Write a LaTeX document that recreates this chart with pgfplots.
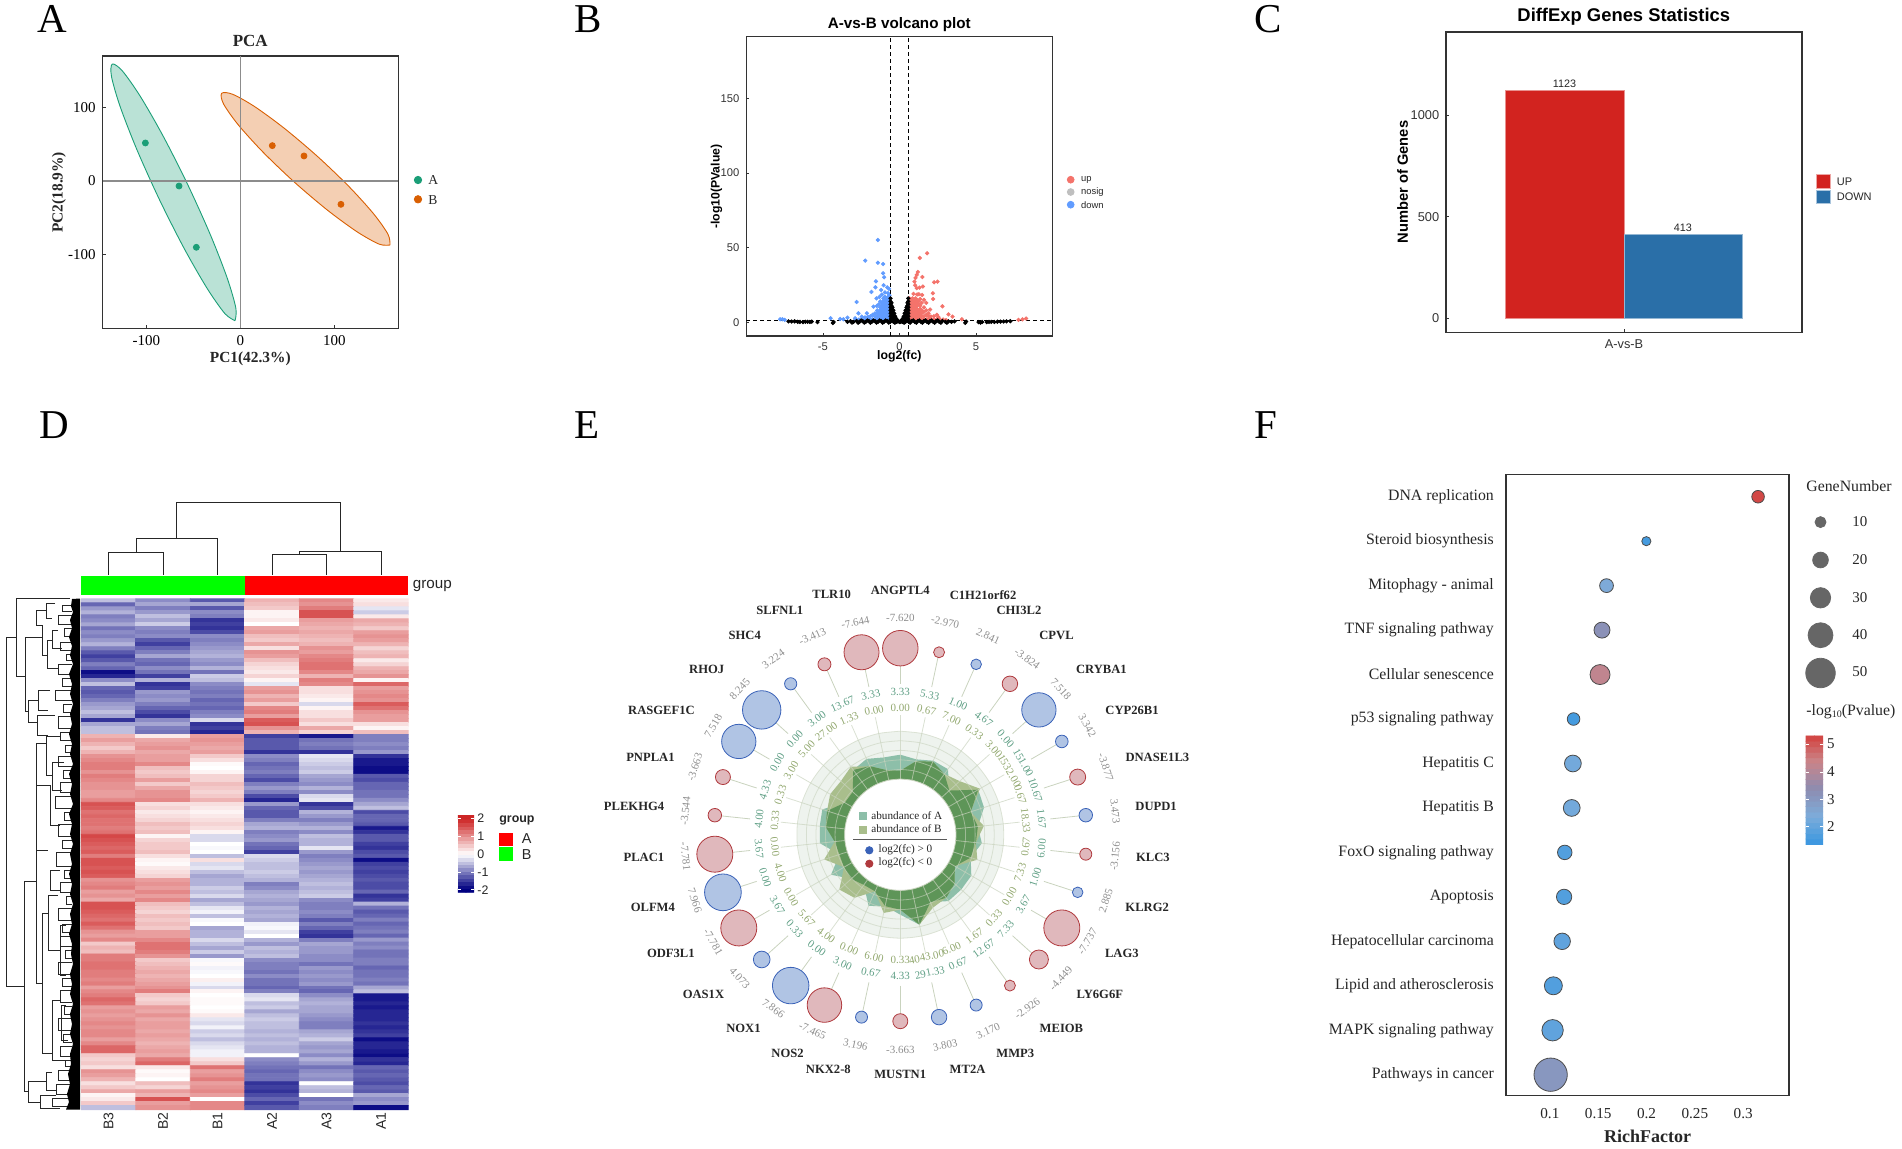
\documentclass[border=0pt]{standalone}
\usepackage{fontspec}
\setmainfont{Liberation Serif}
\setsansfont{Liberation Sans}
\usepackage{pgfplots}
\usepackage{pgfplotstable}
\pgfplotsset{compat=1.18}
% one image pixel = 0.5pt, page is 951pt x 574pt
\newcommand\fs[1]{\fontsize{#1}{#1}\selectfont}
\definecolor{pcaA}{HTML}{1B9E77}
\definecolor{pcaB}{HTML}{D95F02}
\definecolor{volUp}{HTML}{F4736B}
\definecolor{volDown}{HTML}{619CFF}
\definecolor{barUp}{HTML}{D2231F}
\definecolor{barDown}{HTML}{2A6FA8}
\definecolor{bubBlueL}{HTML}{3A62B8}
\definecolor{bubBlueF}{HTML}{B0C4E4}
\definecolor{bubRedL}{HTML}{B03A3E}
\definecolor{bubRedF}{HTML}{E0B8BC}
\definecolor{ringF}{HTML}{EEF3EE}
\definecolor{ringL}{HTML}{C9D3BE}
\definecolor{radA}{HTML}{8DBFA9}
\definecolor{radB}{HTML}{A9BE8C}
\definecolor{radM}{HTML}{5E9558}
\definecolor{txtA}{HTML}{5F9F85}
\definecolor{txtB}{HTML}{92A86F}
\definecolor{txtF}{HTML}{8E8E8E}
\pgfplotsset{
  colormap={heat}{rgb255=(0,0,128) rgb255=(255,255,255) rgb255=(205,38,38)},
  colormap={rich}{rgb255=(58,151,224) rgb255=(125,172,218) rgb255=(142,140,176) rgb255=(202,132,136) rgb255=(212,58,54)},
  panel/.style={scale only axis, axis line style={line width=.75pt,color=black!80},
    tick style={black!80,line width=.4pt}, major tick length=1.5pt,
    xtick pos=bottom, ytick pos=left,
    /pgf/number format/assume math mode=true, /pgf/number format/1000 sep={}},
  blank/.style={scale only axis, hide axis, clip=false},
  bub/.style 2 args={scatter, only marks, mark=*, point meta=\thisrow{d},
    visualization depends on={\thisrow{d}/4 \as \ps},
    scatter/use mapped color={draw=#1,fill=#2},
    scatter/@pre marker code/.append style={/tikz/mark size=\ps,/tikz/line width=.6pt}},
}
\pgfplotstableread{
a
0
12
24
36
48
60
72
84
96
108
120
132
144
156
168
180
192
204
216
228
240
252
264
276
288
300
312
324
336
348
360
}\ringtab
\pgfplotstableread{
a A B M
0 80 64 64
12 77 75 75
24 81 80 80
36 81 75 75
48 66 80 66
60 90 92 90
72 88 74 74
84 78 84 78
96 82 76 76
108 74 81 74
120 82 63 63
132 82 73 73
144 82 78 78
156 74 80 74
168 92 92 92
180 80 75 75
192 73 80 73
204 78 62 62
216 62 78 62
228 66 82 66
240 80 65 65
252 64 80 64
264 81 66 66
276 81 75 75
288 82 77 77
300 64 81 64
312 64 80 64
324 80 84 80
336 83 75 75
348 79 66 66
360 80 64 64
}\radar
\begin{document}
\begin{tikzpicture}
\path[use as bounding box] (0pt,0pt) rectangle (951pt,574pt);

% A: PCA
\begin{axis}[panel, at={(51.35pt,409.85pt)}, width=147.8pt, height=136.15pt,
  xmin=-146.4, xmax=168, ymin=-199.5, ymax=169.3,
  xtick={-100,0,100}, ytick={-100,0,100},
  tick label style={font=\fs{7.5}}]
\addplot[fill=pcaA, fill opacity=.3, draw=pcaA, line width=.45pt, smooth] coordinates {
 (-5.65,-189.15)(-4.73,-172.37)(-13.92,-131.64)(-31.73,-73.28)(-55.55,-6.0)(-81.71,59.86)
 (-106.18,114.16)(-125.31,148.83)(-136.15,158.45)(-137.07,141.67)(-127.88,100.94)(-110.07,42.58)
 (-86.25,-24.7)(-60.09,-90.56)(-35.62,-144.86)(-16.49,-179.53)(-5.65,-189.15)};
\addplot[fill=pcaB, fill opacity=.3, draw=pcaB, line width=.45pt, smooth] coordinates {
 (159.2,-86.7)(157.1,-72.23)(141.66,-44.3)(115.32,-7.25)(81.95,33.4)(46.72,71.41)
 (15.04,100.9)(-8.38,117.55)(-19.9,118.7)(-17.8,104.23)(-2.36,76.3)(23.98,39.25)
 (57.35,-1.4)(92.58,-39.41)(124.26,-68.9)(147.68,-85.55)(159.2,-86.7)};
\addplot[black!45, line width=.7pt] coordinates {(-146.4,0)(168,0)};
\addplot[black!45, line width=.7pt] coordinates {(0,-199.5)(0,169.3)};
\addplot[only marks, mark=*, mark size=1.5pt, pcaA] coordinates {(-101,51.5)(-65.2,-6.8)(-46.8,-89.8)};
\addplot[only marks, mark=*, mark size=1.5pt, pcaB] coordinates {(34,47.9)(67.7,33.9)(107,-31.6)};
\end{axis}

% B: volcano
\begin{axis}[panel, at={(373.2pt,406pt)}, width=153.05pt, height=149.65pt,
  xmin=-10, xmax=10, ymin=-9.2, ymax=191.3,
  xtick={-5,0,5}, ytick={0,50,100,150},
  tick label style={font=\sffamily\fs{5.6},text=black!80}]
\addplot[only marks, mark=*, mark size=.85pt, volDown] coordinates {
 (-1.41,55.1)(-2.24,41.3)(-1.41,39.9)(-1.07,39)(-1.07,32.8)(-1,30.1)(-1.54,27.4)(-1.57,23.4)
 (-1.04,24.8)(-.8,23.4)(-.68,22.4)(-1.83,20.3)(-1.2,21.6)(-1.5,16)(-2.8,13.6)(-1.15,18.5)(-1.48,10.9)
 (-1.7,10.5)(-2.13,6)(-2.68,6)(-1.3,17)(-.95,20)(-.75,19.5)
 (-7.8,2)(-7.65,2)(-7.5,1.6)(-4.5,2.7)(-3.88,2.2)(-3.66,2)(-3.4,3.1)(-2.9,2.7)(-2.46,3.8)
 (-.65,2)(-.65,4)(-.65,6)(-.65,8)(-.65,10)(-.65,12)(-.65,14)(-.65,16)(-.65,18)
 (-.75,3)(-.75,5)(-.75,7)(-.75,9)(-.75,11)(-.75,13)(-.75,15)(-.75,17)
 (-.85,2)(-.85,4)(-.85,6)(-.85,8)(-.85,10)(-.85,12)(-.85,14)(-.85,16)
 (-.95,3)(-.95,5)(-.95,7)(-.95,9)(-.95,11)(-.95,13)(-.95,15)(-.95,17)
 (-1.05,2)(-1.05,4)(-1.05,6)(-1.05,8)(-1.05,10)(-1.05,12)(-1.05,14)(-1.05,16)
 (-1.15,3)(-1.15,5)(-1.15,7)(-1.15,9)(-1.15,11)(-1.15,13)
 (-1.25,2)(-1.25,4)(-1.25,6)(-1.25,8)(-1.25,10)(-1.25,14)
 (-1.35,3)(-1.35,5)(-1.35,7)(-1.35,12)
 (-1.45,2)(-1.45,4)(-1.45,6)(-1.45,8)
 (-1.6,2)(-1.6,4)(-1.6,6)(-1.75,2)(-1.75,5)(-1.9,2)(-1.9,4)(-2.05,2)(-2.05,3.6)(-2.25,2)(-2.25,3.2)
 (-2.45,2)(-2.65,1.8)(-2.85,1.8)};
\addplot[only marks, mark=*, mark size=.85pt, volUp] coordinates {
 (1.81,46.2)(1.33,43.1)(1.2,33.7)(1.13,31.7)(1.05,29.7)(1.5,30.3)(.98,27.2)(1.03,24.8)(1.13,22.8)
 (1.31,23.2)(1.53,23.9)(2.27,26.8)(2.49,27.2)(2.18,19.4)(2.2,15.6)(.92,19)(1.27,18.8)(1.48,18.3)
 (2.81,10.7)(3.2,5.3)(3.47,3.8)(4.08,2)(7.78,1.6)(8.04,2)(8.28,2.5)(1.15,18.6)(1.35,15.6)(1.6,15)
 (2.55,3.4)(2.45,5)(2,8.5)(1.75,13)
 (.65,2)(.65,4)(.65,6)(.65,8)(.65,10)(.65,12)(.65,14)(.65,16)
 (.75,3)(.75,5)(.75,7)(.75,9)(.75,11)(.75,13)(.75,15)
 (.85,2)(.85,4)(.85,6)(.85,8)(.85,10)(.85,12)(.85,14)(.85,16)
 (.95,3)(.95,5)(.95,7)(.95,9)(.95,11)(.95,13)(.95,15)
 (1.05,2)(1.05,4)(1.05,6)(1.05,8)(1.05,10)(1.05,12)(1.05,14)(1.05,16)
 (1.15,3)(1.15,5)(1.15,7)(1.15,9)(1.15,11)(1.15,13)(1.15,15)
 (1.25,2)(1.25,4)(1.25,6)(1.25,8)(1.25,12)(1.25,14)
 (1.35,3)(1.35,5)(1.35,7)(1.35,9)(1.35,11)
 (1.45,2)(1.45,4)(1.45,6)(1.45,8)(1.45,13)
 (1.6,2)(1.6,4)(1.6,7)(1.6,10)(1.75,2)(1.75,5)(1.75,8)(1.9,2)(1.9,4)(1.9,6)
 (2.05,2)(2.05,3.8)(2.25,2)(2.25,4)(2.45,2)(2.65,1.8)(2.85,1.8)(3.05,1.5)};
\addplot[only marks, mark=*, mark size=.85pt, black] coordinates {
 (-.58,16)(-.58,14)(-.58,12)(-.58,10)(-.58,8)(-.58,6)(-.58,4)(-.58,2)
 (-.52,13)(-.52,11)(-.52,9)(-.52,7)(-.52,5)(-.52,3)(-.46,10)(-.46,8)(-.46,6)(-.46,4)(-.46,2)
 (-.4,8)(-.4,6)(-.4,4)(-.4,2)(-.34,6)(-.34,4)(-.34,2)(-.28,4)(-.28,2)(-.28,.5)(-.22,2.5)(-.22,1)
 (-.16,1.5)(-.16,.5)(-.1,.8)(0,.2)(.05,.2)(.1,.8)(.16,1.5)(.16,.5)(.22,2.5)(.22,1)
 (.28,4)(.28,2)(.28,.5)(.34,6)(.34,4)(.34,2)(.4,8)(.4,6)(.4,4)(.4,2)
 (.46,10)(.46,8)(.46,6)(.46,4)(.46,2)(.52,13)(.52,11)(.52,9)(.52,7)(.52,5)(.52,3)
 (.58,16)(.58,14)(.58,12)(.58,10)(.58,8)(.58,6)(.58,4)(.58,2)
 (-3.4,.3)(-3.2,.8)(-3,.3)(-2.8,.8)(-2.6,.3)(-2.4,.8)(-2.2,.3)(-2,.8)(-1.8,.3)(-1.6,.8)(-1.4,.3)
 (-1.2,.8)(-1,.3)(-.8,.8)(-.6,.3)(-.4,.3)(-.2,.3)(.2,.3)(.4,.3)(.6,.3)(.8,.8)(1,.3)(1.2,.8)(1.4,.3)
 (1.6,.8)(1.8,.3)(2,.8)(2.2,.3)(2.4,.8)(2.6,.3)(2.8,.8)(3,.3)(3.2,.6)(3.4,.3)(3.6,.6)
 (-3.1,-.3)(-2.7,-.3)(-2.3,-.3)(-1.9,-.3)(-1.5,-.3)(-1.1,-.3)(-.7,-.3)(-.3,-.3)(.3,-.3)(.7,-.3)(1.1,-.3)(1.5,-.3)(1.9,-.3)(2.3,-.3)(2.7,-.3)(3.1,-.3)
 (-2.5,1.2)(-2.1,1.2)(-1.7,1.2)(-1.3,1.2)(-.9,1.2)(-.5,1.2)(.5,1.2)(.9,1.2)(1.3,1.2)(1.7,1.2)(2.1,1.2)(2.5,1.2)
 (-7.25,.6)(-7.05,.5)(-6.85,.6)(-6.65,.3)(-6.5,.2)(-6.3,.1)(-6.15,.3)(-6,.3)(-5.85,.2)(-5.73,.4)(-5.36,.1)(-4.35,-.5)(-4.3,.2)
 (4.36,.5)(4.3,-.4)(5.17,.1)(5.3,-.2)(5.4,.2)(5.7,.1)(5.85,.3)(6,.3)(6.2,.2)(6.4,.4)(6.6,.4)(6.8,.5)(7,.6)(7.24,.7)};
\addplot[black, line width=.65pt, dash pattern=on 2pt off 1.5pt] coordinates {(-10,1.3)(10,1.3)};
\addplot[black, line width=.65pt, dash pattern=on 2pt off 1.5pt] coordinates {(-.585,-9.2)(-.585,191.3)};
\addplot[black, line width=.65pt, dash pattern=on 2pt off 1.5pt] coordinates {(.585,-9.2)(.585,191.3)};
\end{axis}

% C: bars
\begin{axis}[panel, at={(723.1pt,407.85pt)}, width=177.85pt, height=150.15pt,
  xmin=-.6, xmax=.6, ymin=-69, ymax=1410,
  xtick={0}, xticklabels={A-vs-B}, ytick={0,500,1000},
  tick label style={font=\sffamily\fs{6.4},text=black!80}]
\addplot[ybar, bar width=.4, bar shift=-.2, fill=barUp, draw=barUp!50!white, line width=.4pt] coordinates {(0,1123)};
\addplot[ybar, bar width=.4, bar shift=.2, fill=barDown, draw=barDown!50!white, line width=.4pt] coordinates {(0,413)};
\end{axis}

% D: heat map, columns B3 B2 B1 A2 A3 A1, top row first
\begin{axis}[blank, at={(40.7pt,19.2pt)}, width=163.4pt, height=255.4pt,
  xmin=-.5, xmax=5.5, ymin=-.5, ymax=127.5, y dir=reverse,
  colormap name=heat, point meta min=-2, point meta max=2]
\addplot[matrix plot*, mesh/cols=6, point meta=\thisrow{z}] table[row sep=\\, y index=0, x expr={\coordindex-6*floor((\coordindex+.5)/6)}, y expr={floor((\coordindex+.5)/6)}] {
z\\
-.5\\-.9\\-1.3\\.7\\1.1\\.2\\
-1.2\\-.7\\-.7\\.6\\1.0\\.3\\
-.8\\-1.0\\-1.3\\.5\\1.2\\-.2\\
-.6\\-.8\\-.9\\.1\\1.6\\-.4\\
-1.0\\-.5\\-1.0\\.1\\1.6\\.2\\
-.9\\-.7\\-1.6\\.2\\.9\\.8\\
-.7\\-.4\\-1.5\\.0\\.8\\.7\\
-1.1\\-.9\\-1.6\\.8\\.7\\.5\\
-.9\\-1.0\\-1.4\\.9\\.8\\.9\\
-1.0\\-.9\\-.9\\.6\\.7\\1.0\\
-.8\\-1.3\\-1.0\\.5\\.6\\.9\\
-.6\\-1.5\\-.9\\.8\\.7\\.7\\
-1.0\\-1.2\\-.8\\.3\\1.0\\.4\\
-1.3\\-1.0\\-.7\\1.0\\.9\\.6\\
-1.5\\-.7\\-.6\\.9\\1.1\\.7\\
-1.3\\-1.1\\-.8\\.6\\1.2\\.2\\
-1.0\\-1.2\\-.9\\.4\\1.3\\.4\\
-1.2\\-.9\\-.6\\.3\\1.3\\.7\\
-1.9\\-1.1\\-1.1\\.2\\1.1\\.8\\
-1.7\\-1.5\\-.4\\.4\\.7\\1.0\\
-.9\\-.6\\-.5\\.1\\1.2\\.1\\
-.5\\-1.6\\-.9\\-.2\\1.1\\1.4\\
-1.2\\-1.5\\-1.0\\.9\\.3\\.9\\
-1.3\\-.8\\-1.1\\1.0\\.3\\1.0\\
-1.2\\-.9\\-1.0\\.7\\.2\\1.1\\
-1.0\\-.8\\-1.2\\.9\\.1\\1.0\\
-.8\\-1.0\\-1.1\\.5\\-.3\\1.5\\
-.7\\-1.2\\-1.2\\1.1\\.1\\1.3\\
-.5\\-1.4\\-1.0\\1.2\\.3\\1.0\\
-.7\\-1.6\\-.9\\.9\\.3\\.9\\
-1.6\\-.9\\-.3\\1.5\\.5\\.9\\
-.7\\-.7\\-1.6\\1.6\\.3\\.3\\
-.5\\-1.0\\-1.5\\1.0\\.8\\.1\\
-.5\\-1.1\\-1.7\\.7\\.4\\.6\\
.7\\.2\\.9\\-1.5\\-1.8\\-1.0\\
.9\\.8\\1.0\\-1.3\\-1.1\\-1.0\\
.7\\.9\\.9\\-1.3\\-1.0\\-.9\\
.5\\1.0\\.8\\-1.3\\-1.1\\-1.0\\
.7\\.8\\.9\\-1.6\\-1.6\\-.8\\
1.0\\.9\\.5\\-.9\\-.2\\-1.6\\
1.1\\.9\\.3\\-1.0\\-.3\\-1.8\\
1.2\\1.1\\.05\\-1.2\\-.4\\-1.8\\
1.2\\.6\\.0\\-1.1\\-.5\\-1.9\\
1.0\\.5\\.1\\-1.0\\-.4\\-1.9\\
1.2\\.6\\.4\\-1.2\\-.7\\-1.3\\
1.1\\.9\\.4\\-1.4\\-.8\\-1.4\\
1.0\\.5\\.6\\-1.0\\-.9\\-1.2\\
1.0\\.8\\.5\\-.8\\-.6\\-1.2\\
.9\\1.0\\.4\\-1.0\\-.9\\-1.1\\
.9\\1.0\\.5\\-1.4\\-.3\\-1.1\\
1.1\\1.1\\.7\\-1.7\\-.2\\-.9\\
1.6\\.3\\.3\\-.8\\-1.6\\-.7\\
1.5\\.4\\.2\\-1.2\\-1.4\\-.5\\
1.3\\.2\\.1\\-1.3\\-.6\\-1.4\\
1.4\\.3\\.2\\-1.3\\-.8\\-1.2\\
1.3\\.4\\.3\\-1.0\\-1.0\\-1.2\\
1.3\\.6\\.4\\-.7\\-.8\\-1.3\\
1.2\\.5\\.3\\-.6\\-.6\\-1.8\\
1.3\\.6\\.1\\-1.0\\-.9\\-1.6\\
1.7\\.1\\-.3\\-.9\\-.5\\-1.3\\
1.6\\.4\\-.3\\-.8\\-.6\\-1.3\\
1.5\\.5\\.0\\-1.1\\-.6\\-1.5\\
1.4\\.5\\-.05\\-1.2\\-.2\\-1.6\\
1.5\\.6\\.0\\-1.5\\-.8\\-1.4\\
1.2\\.3\\-.5\\-.3\\-1.0\\-1.3\\
1.6\\.1\\.3\\-.4\\-.9\\-1.9\\
1.6\\.05\\-.3\\-.5\\-.8\\-1.5\\
1.5\\.2\\-.2\\-.5\\-.7\\-1.4\\
1.6\\.3\\-.5\\-.4\\-.8\\-1.5\\
1.5\\.4\\-.7\\-.5\\-.7\\-1.4\\
1.0\\.9\\-.6\\-.6\\-.6\\-1.3\\
1.1\\1.0\\-.6\\-1.0\\-.5\\-1.4\\
1.2\\.9\\-.4\\-.9\\-.6\\-1.4\\
.9\\1.1\\-.5\\-.7\\-.5\\-1.2\\
1.0\\.9\\-.3\\-.6\\-.4\\-1.6\\
.8\\1.1\\-.7\\-.7\\-.9\\-1.5\\
1.6\\.6\\-.5\\-.8\\-1.0\\-.6\\
1.6\\.5\\-.2\\-.6\\-1.0\\-1.1\\
1.5\\.4\\-.1\\-.7\\-.9\\-1.3\\
1.4\\.6\\-.5\\-.6\\-1.0\\-1.2\\
1.3\\.5\\-.05\\-.7\\-1.3\\-1.0\\
1.5\\.6\\.0\\-.1\\-1.0\\-1.2\\
1.3\\.5\\-.7\\-.05\\-1.2\\-1.1\\
1.0\\.9\\-.6\\-.2\\-1.5\\-1.0\\
.9\\.9\\-.6\\.0\\-1.6\\-1.2\\
1.1\\1.1\\-.3\\-.6\\-1.0\\-.8\\
.5\\1.3\\-.5\\-.8\\-.7\\-1.0\\
.7\\1.3\\-.7\\-.5\\-.8\\-.9\\
.6\\1.2\\-.4\\-.6\\-.8\\-1.1\\
1.2\\1.0\\-.8\\-.5\\-.9\\-1.1\\
1.2\\.5\\-.05\\-.9\\-.9\\-1.0\\
1.3\\.6\\.05\\-1.0\\-1.1\\-1.0\\
1.3\\.7\\-.1\\-1.0\\-.8\\-1.2\\
1.2\\.8\\-.05\\-1.1\\-.9\\-1.1\\
1.2\\.7\\.0\\-.9\\-.8\\-1.1\\
1.1\\.8\\.15\\-1.1\\-.9\\-1.0\\
1.2\\.9\\-.1\\-1.1\\-.8\\-1.1\\
.9\\1.0\\-.3\\-1.2\\-1.1\\-.7\\
1.1\\1.2\\.1\\-1.0\\-1.2\\-.5\\
1.2\\.5\\.0\\-.3\\-.9\\-1.8\\
1.4\\.4\\.05\\-.2\\-.7\\-1.8\\
1.3\\.5\\.05\\-.5\\-.6\\-1.7\\
.9\\.9\\.0\\-.4\\-.7\\-1.8\\
1.0\\.8\\.05\\-.7\\-.7\\-1.7\\
.9\\1.0\\.2\\-.5\\-.8\\-1.7\\
1.0\\.8\\-.2\\-.4\\-.9\\-1.7\\
1.1\\.9\\-.3\\-.5\\-1.0\\-1.6\\
1.0\\.9\\-.1\\-.5\\-1.0\\-1.7\\
1.1\\.8\\-.4\\-.6\\-.7\\-1.6\\
1.1\\.9\\-.3\\-.5\\-.6\\-1.5\\
.9\\.8\\-.5\\-.6\\-.4\\-1.9\\
1.1\\.7\\-.3\\-.5\\-.7\\-1.7\\
1.4\\.8\\-.2\\-.6\\-.8\\-1.7\\
1.4\\.9\\-.1\\-.6\\-.7\\-1.8\\
.5\\.8\\-.1\\.0\\-.9\\-1.9\\
.4\\1.2\\.3\\-.9\\-.6\\-1.6\\
.5\\1.4\\.5\\-1.0\\-.8\\-1.7\\
.3\\.2\\1.3\\-1.1\\-1.1\\-1.2\\
1.0\\.05\\.9\\-1.2\\-.9\\-1.3\\
.9\\.1\\1.0\\-1.1\\-.8\\-1.2\\
.7\\.0\\1.2\\-1.1\\-.9\\-1.3\\
.3\\.6\\.9\\-1.6\\.0\\-1.4\\
.5\\.4\\1.0\\-1.5\\-.5\\-1.2\\
.8\\.9\\1.1\\-1.6\\-.6\\-1.3\\
.1\\.7\\.9\\-1.4\\.0\\-.7\\
.2\\1.6\\.0\\-1.2\\-1.1\\-.9\\
.5\\.9\\1.1\\-1.5\\-.9\\-.8\\
-.5\\1.0\\1.1\\-1.3\\-1.0\\-1.9\\
};
\end{axis}

% D: colour key
\begin{axis}[blank, at={(229.1pt,127.85pt)}, width=7.7pt, height=38.35pt,
  xmin=-.5, xmax=1.5, ymin=-2.2, ymax=2.2,
  colormap name=heat, point meta min=-2, point meta max=2]
\addplot[matrix plot*, mesh/cols=2, point meta=y] coordinates {
 (0,-2.1)(1,-2.1)(0,-1.9)(1,-1.9)(0,-1.7)(1,-1.7)(0,-1.5)(1,-1.5)(0,-1.3)(1,-1.3)(0,-1.1)(1,-1.1)
 (0,-.9)(1,-.9)(0,-.7)(1,-.7)(0,-.5)(1,-.5)(0,-.3)(1,-.3)(0,-.1)(1,-.1)(0,.1)(1,.1)(0,.3)(1,.3)
 (0,.5)(1,.5)(0,.7)(1,.7)(0,.9)(1,.9)(0,1.1)(1,1.1)(0,1.3)(1,1.3)(0,1.5)(1,1.5)(0,1.7)(1,1.7)
 (0,1.9)(1,1.9)(0,2.1)(1,2.1)};
\end{axis}

% E: radial panel, x and y are image pixels from the centre
\begin{axis}[blank, at={(330.15pt,36.65pt)}, width=240pt, height=240pt,
  xmin=-240, xmax=240, ymin=-240, ymax=240]
\addplot[fill=ringF, draw=none, smooth] table[y index=0, x expr=103.5*sin(\thisrow{a}), y expr=103.5*cos(\thisrow{a})] {\ringtab};
\addplot[fill=radA, draw=none] table[x expr=\thisrow{A}*sin(\thisrow{a}), y expr=\thisrow{A}*cos(\thisrow{a})] {\radar};
\addplot[fill=radB, draw=none] table[x expr=\thisrow{B}*sin(\thisrow{a}), y expr=\thisrow{B}*cos(\thisrow{a})] {\radar};
\addplot[fill=radM, draw=none] table[x expr=\thisrow{M}*sin(\thisrow{a}), y expr=\thisrow{M}*cos(\thisrow{a})] {\radar};
\pgfplotsinvokeforeach{65.3,74.9,84.4,94,103.5}{
  \addplot[ringL, draw opacity=.6, line width=.4pt, smooth] table[y index=0, x expr=#1*sin(\thisrow{a}), y expr=#1*cos(\thisrow{a})] {\ringtab};
}
\pgfplotsinvokeforeach{0,12,...,348}{
  \addplot[ringL, draw opacity=.7, line width=.4pt] table[row sep=\\, y index=0, x expr=\thisrow{r}*sin(#1), y expr=\thisrow{r}*cos(#1)] {r\\ 56\\ 120\\};
  \addplot[ringL, line width=.4pt] table[row sep=\\, y index=0, x expr=\thisrow{r}*sin(#1), y expr=\thisrow{r}*cos(#1)] {r\\ 151\\ 186\\};
}
\addplot[fill=white, draw=ringL, line width=.4pt, smooth] table[y index=0, x expr=55.7*sin(\thisrow{a}), y expr=55.7*cos(\thisrow{a})] {\ringtab};
\addplot[bub={bubBlueL}{bubBlueF}] table[x expr=186.5*sin(\thisrow{a}), y expr=186.5*cos(\thisrow{a})] {
a d
24 10.6
48 34.3
60 12.6
84 13.5
108 10.6
156 12
168 15.5
192 12
216 36.5
228 16.7
252 36.7
300 34.3
312 38.4
324 12.2
};
\addplot[bub={bubRedL}{bubRedF}] table[x expr=186.5*sin(\thisrow{a}), y expr=186.5*cos(\thisrow{a})] {
a d
0 35.5
12 11
36 15.5
72 16
96 12
120 36
132 19
144 11
180 15
204 34.5
240 36
264 36
276 13.5
288 15
336 13
348 35
};
\end{axis}

% F: enrichment dots
\begin{axis}[panel, at={(752.95pt,26.2pt)}, width=141.6pt, height=310.55pt,
  xmin=.0545, xmax=.3475, ymin=.53, ymax=14.5,
  xtick={.1,.15,.2,.25,.3}, xticklabels={0.1,0.15,0.2,0.25,0.3},
  ytick={1,...,14},
  yticklabels={Pathways in cancer,MAPK signaling pathway,Lipid and atherosclerosis,Hepatocellular carcinoma,Apoptosis,FoxO signaling pathway,Hepatitis B,Hepatitis C,p53 signaling pathway,Cellular senescence,TNF signaling pathway,Mitophagy - animal,Steroid biosynthesis,DNA replication},
  major tick length=0pt, clip=false,
  xticklabel style={font=\fs{7.6},text=black!85,yshift=-3pt},
  yticklabel style={font=\fs{7.9},text=black!85,xshift=-2.5pt},
  colormap name=rich, point meta min=1.33, point meta max=5.39]
\addplot[scatter, only marks, mark=*, point meta=\thisrow{c},
  visualization depends on={\thisrow{d}/4 \as \ps},
  scatter/use mapped color={draw=black!70,fill=mapped color},
  scatter/@pre marker code/.append style={/tikz/mark size=\ps,/tikz/line width=.4pt}] table {
x y c d
.3154 14 5.2 12.6
.1998 13 1.5 9.2
.1586 12 2.4 13.8
.1539 11 3.2 16
.1519 10 4.2 20
.1245 9 1.5 12.6
.1238 8 2.2 16.8
.1226 7 2.2 16.8
.1154 6 1.7 14.5
.1147 5 1.7 15.3
.1127 4 1.9 16.5
.1036 3 1.7 18
.1028 2 1.9 21.4
.1008 1 3.0 33.3
};
\end{axis}

% F: colour key
\begin{axis}[blank, at={(903pt,151.75pt)}, width=8.4pt, height=55.65pt,
  xmin=-.5, xmax=1.5, ymin=1.3, ymax=5.4,
  colormap name=rich, point meta min=1.33, point meta max=5.39]
\addplot[matrix plot*, mesh/cols=2, point meta=y] coordinates {
 (0,1.4)(1,1.4)(0,1.6)(1,1.6)(0,1.8)(1,1.8)(0,2)(1,2)(0,2.2)(1,2.2)(0,2.4)(1,2.4)(0,2.6)(1,2.6)
 (0,2.8)(1,2.8)(0,3)(1,3)(0,3.2)(1,3.2)(0,3.4)(1,3.4)(0,3.6)(1,3.6)(0,3.8)(1,3.8)(0,4)(1,4)
 (0,4.2)(1,4.2)(0,4.4)(1,4.4)(0,4.6)(1,4.6)(0,4.8)(1,4.8)(0,5)(1,5)(0,5.2)(1,5.2)};
\end{axis}

% whole page in image pixels: legends, dendrograms, group strip
\begin{axis}[blank, at={(0pt,0pt)}, width=951pt, height=574pt,
  xmin=0, xmax=1902, ymin=0, ymax=1148, y dir=reverse, unbounded coords=jump]
% legends of A and B
\addplot[only marks, mark=*, mark size=1.85pt, pcaA] coordinates {(418,180)};
\addplot[only marks, mark=*, mark size=1.85pt, pcaB] coordinates {(418,199.3)};
\addplot[only marks, mark=*, mark size=1.7pt, volUp] coordinates {(1070.7,179.7)};
\addplot[only marks, mark=*, mark size=1.7pt, black!25] coordinates {(1070.7,192)};
\addplot[only marks, mark=*, mark size=1.7pt, volDown] coordinates {(1070.7,204.7)};
% legend of C
\addplot[fill=barUp, draw=barUp!40!white, line width=.3pt] coordinates {(1816.6,174.3)(1830.5,174.3)(1830.5,188.3)(1816.6,188.3)} --cycle;
\addplot[fill=barDown, draw=barDown!40!white, line width=.3pt] coordinates {(1816.6,190)(1830.5,190)(1830.5,203.3)(1816.6,203.3)} --cycle;
% group strip of D
\addplot[fill=green, draw=none] coordinates {(81.4,576.2)(245,576.2)(245,594.9)(81.4,594.9)} --cycle;
\addplot[fill=red, draw=none] coordinates {(245,576.2)(408.2,576.2)(408.2,594.9)(245,594.9)} --cycle;
\addplot[fill=red, draw=none] coordinates {(499,832.5)(512.9,832.5)(512.9,846)(499,846)} --cycle;
\addplot[fill=green, draw=none] coordinates {(499,847.2)(512.9,847.2)(512.9,860.7)(499,860.7)} --cycle;
% ticks on the colour keys
\addplot[white, line width=.3pt] coordinates {
 (458.2,818.6)(461,818.6)(nan,nan)(470.8,818.6)(473.6,818.6)(nan,nan)
 (458.2,836.4)(461,836.4)(nan,nan)(470.8,836.4)(473.6,836.4)(nan,nan)
 (458.2,872)(461,872)(nan,nan)(470.8,872)(473.6,872)(nan,nan)
 (458.2,889.7)(461,889.7)(nan,nan)(470.8,889.7)(473.6,889.7)(nan,nan)
 (1806,743.9)(1809,743.9)(nan,nan)(1819.8,743.9)(1822.8,743.9)(nan,nan)
 (1806,771.9)(1809,771.9)(nan,nan)(1819.8,771.9)(1822.8,771.9)(nan,nan)
 (1806,799.5)(1809,799.5)(nan,nan)(1819.8,799.5)(1822.8,799.5)(nan,nan)
 (1806,826.2)(1809,826.2)(nan,nan)(1819.8,826.2)(1822.8,826.2)};
% top dendrogram
\addplot[black!85, line width=.45pt] coordinates {
 (136,552)(136,538)(217.9,538)(217.9,575)(nan,nan)
 (176.8,538)(176.8,502)(340.4,502)(340.4,551.5)(nan,nan)
 (108.6,575)(108.6,552)(163.2,552)(163.2,575)(nan,nan)
 (299.3,554.5)(299.3,551.5)(381.4,551.5)(381.4,575)(nan,nan)
 (272.1,575)(272.1,554.5)(326.8,554.5)(326.8,575)};
% left dendrogram, large branches
\addplot[black!85, line width=.45pt] coordinates {
 (16.3,637.7)(6.7,637.7)(6.7,986.7)(24,986.7)(nan,nan)
 (70,598.3)(16.3,598.3)(16.3,676)(25.3,676)(nan,nan)
 (42,637.7)(25.3,637.7)(25.3,711.7)(28.3,711.7)(nan,nan)
 (55,603)(46,603)(46,618)(52,618)(nan,nan)
 (46,610)(36.7,610)(36.7,625)(42,625)(42,655)(47,655)(nan,nan)
 (52,640)(47,640)(47,668)(58,668)(nan,nan)
 (58,630)(52,630)(52,648)(62,648)(nan,nan)
 (38,700)(28.3,700)(28.3,722)(37,722)(nan,nan)
 (50,690)(38,690)(38,710)(48,710)(nan,nan)
 (55,715)(37,715)(37,735)(48,735)(nan,nan)
 (36,881.7)(24,881.7)(24,1091.7)(28.3,1091.7)(nan,nan)
 (46,1081)(28.3,1081)(28.3,1102)(40,1102)(nan,nan)
 (52,1072)(46,1072)(46,1090)(56,1090)(nan,nan)
 (56,1095)(40,1095)(40,1108)(60,1108)(nan,nan)
 (46.7,743)(36,743)(36,983)(42.7,983)(nan,nan)
 (60,736)(46.7,736)(46.7,775)(52,775)(nan,nan)
 (64,762)(52,762)(52,790)(62,790)(nan,nan)
 (50,785)(36.5,785)(36.5,850)(48,850)(nan,nan)
 (60,825)(50,825)(50,785)(nan,nan)
 (48,913)(42.7,913)(42.7,1053)(52,1053)(nan,nan)
 (58,895)(48,895)(48,950)(60,950)(nan,nan)
 (66,925)(60,925)(60,975)(66,975)(nan,nan)
 (61,1000)(52,1000)(52,1060)(68,1060)(nan,nan)
 (66,1005)(61,1005)(61,1040)(68,1040)(nan,nan)
 (60,870)(50,870)(50,890)(60,890)};
% left dendrogram, small branches
\addplot[black!85, line width=.4pt] coordinates {
 (72,605)(62,605)(62,611)(72,611)(nan,nan)(72,615)(58,615)(58,624)(72,624)(nan,nan)
 (72,628)(64,628)(64,636)(72,636)(nan,nan)(72,642)(60,642)(60,650)(72,650)(nan,nan)
 (72,654)(66,654)(66,660)(72,660)(nan,nan)(72,664)(58,664)(58,674)(72,674)(nan,nan)
 (72,678)(62,678)(62,686)(72,686)(nan,nan)(72,690)(55,690)(55,700)(72,700)(nan,nan)
 (72,704)(63,704)(63,712)(72,712)(nan,nan)(72,716)(58,716)(58,728)(72,728)(nan,nan)
 (72,732)(60,732)(60,740)(72,740)(nan,nan)(72,745)(65,745)(65,752)(72,752)(nan,nan)
 (72,756)(58,756)(58,766)(72,766)(nan,nan)(72,770)(63,770)(63,778)(72,778)(nan,nan)
 (72,782)(60,782)(60,792)(72,792)(nan,nan)(72,796)(55,796)(55,808)(72,808)(nan,nan)
 (72,812)(64,812)(64,820)(72,820)(nan,nan)(72,824)(58,824)(58,836)(72,836)(nan,nan)
 (72,840)(62,840)(62,848)(72,848)(nan,nan)(72,852)(56,852)(56,866)(72,866)(nan,nan)
 (72,870)(64,870)(64,878)(72,878)(nan,nan)(72,882)(60,882)(60,892)(72,892)(nan,nan)
 (72,896)(66,896)(66,904)(72,904)(nan,nan)(72,908)(58,908)(58,920)(72,920)(nan,nan)
 (72,924)(62,924)(62,932)(72,932)(nan,nan)(72,936)(60,936)(60,946)(72,946)(nan,nan)
 (72,950)(65,950)(65,958)(72,958)(nan,nan)(72,962)(58,962)(58,974)(72,974)(nan,nan)
 (72,978)(62,978)(62,986)(72,986)(nan,nan)(72,990)(60,990)(60,1002)(72,1002)(nan,nan)
 (72,1006)(64,1006)(64,1014)(72,1014)(nan,nan)(72,1018)(58,1018)(58,1030)(72,1030)(nan,nan)
 (72,1034)(63,1034)(63,1042)(72,1042)(nan,nan)(72,1046)(60,1046)(60,1056)(72,1056)(nan,nan)
 (72,1060)(65,1060)(65,1066)(72,1066)(nan,nan)(72,1070)(58,1070)(58,1080)(72,1080)(nan,nan)
 (72,1084)(56,1084)(56,1094)(72,1094)(nan,nan)(72,1098)(52,1098)(52,1106)(72,1106)};
% leaves of the left dendrogram merge into a solid band
\addplot[fill=black, draw=none] coordinates {
 (80,598.5)(72,599)(71,606)(73,612)(70,620)(72,628)(69,637)(72,646)(70,655)(73,664)(69,674)
 (72,684)(70,694)(73,704)(70,714)(72,724)(69,734)(72,744)(70,754)(73,764)(69,774)(72,784)
 (70,794)(73,804)(69,814)(72,824)(70,834)(73,844)(70,854)(72,864)(69,874)(72,884)(70,894)
 (73,904)(70,914)(72,924)(69,934)(72,944)(71,954)(73,964)(70,974)(72,984)(70,994)(73,1004)
 (70,1014)(72,1024)(70,1034)(73,1044)(70,1054)(71,1064)(68,1074)(70,1084)(67,1094)(69,1102)
 (66,1109.5)(80,1109.5)} --cycle;
% centre legend of E
\addplot[fill=radA, draw=none] coordinates {(859.3,811.7)(867.3,811.7)(867.3,820)(859.3,820)} --cycle;
\addplot[fill=radB, draw=none] coordinates {(859.3,825.7)(867.3,825.7)(867.3,834)(859.3,834)} --cycle;
\addplot[black!65, line width=.5pt] coordinates {(853.3,839)(946.7,839)};
\addplot[only marks, mark=*, mark size=1.83pt, bubBlueL] coordinates {(869.3,850.3)};
\addplot[only marks, mark=*, mark size=1.83pt, bubRedL] coordinates {(869.3,863.7)};
% GeneNumber legend of F
\addplot[only marks, mark=*, mark size=2.75pt, black!60] coordinates {(1820.5,522.1)};
\addplot[only marks, mark=*, mark size=3.93pt, black!60] coordinates {(1820.5,560)};
\addplot[only marks, mark=*, mark size=5.08pt, black!60] coordinates {(1820.5,597.8)};
\addplot[only marks, mark=*, mark size=6.23pt, black!60] coordinates {(1820.5,635.2)};
\addplot[only marks, mark=*, mark size=7.38pt, black!60] coordinates {(1820.5,673)};
\end{axis}

% all text, placed in image pixels
\begin{scope}[shift={(0pt,574pt)}, x=0.5pt, y=-0.5pt, every node/.style={inner sep=0pt, text=black!85}]
\foreach \l/\x/\y in {A/37/33, B/574.3/33, C/1254/33, D/39/439, E/574/439, F/1254/439}
  \node[anchor=base west, font=\fs{20.5}, text=black] at (\x,\y) {\l};
% A
\node[font=\bfseries\fs{8.5}] at (250.3,40.7) {PCA};
\node[font=\bfseries\fs{7.7}] at (250.3,358.7) {PC1(42.3\%)};
\node[font=\bfseries\fs{7.7}, rotate=90] at (59,192.3) {PC2(18.9\%)};
\node[anchor=west, font=\fs{6.8}] at (428,180.5) {A};
\node[anchor=west, font=\fs{6.8}] at (428,199.8) {B};
% B
\begin{scope}[font=\sffamily]
\node[font=\sffamily\bfseries\fs{7.6}, text=black] at (899.3,24.3) {A-vs-B volcano plot};
\node[font=\sffamily\bfseries\fs{6.15}, text=black] at (899.3,356) {log2(fc)};
\node[font=\sffamily\bfseries\fs{6.1}, text=black, rotate=90] at (716.4,186.7) {-log10(PValue)};
\node[anchor=west, font=\sffamily\fs{4.7}] at (1080.7,179.7) {up};
\node[anchor=west, font=\sffamily\fs{4.7}] at (1080.7,192) {nosig};
\node[anchor=west, font=\sffamily\fs{4.7}] at (1080.7,204.7) {down};
% C
\node[font=\sffamily\bfseries\fs{9.2}, text=black] at (1623.8,16.7) {DiffExp Genes Statistics};
\node[font=\sffamily\bfseries\fs{7.35}, text=black, rotate=90] at (1402.5,182) {Number of Genes};
\node[font=\sffamily\fs{5.4}] at (1564.5,83.7) {1123};
\node[font=\sffamily\fs{5.4}] at (1682.8,227.7) {413};
\node[anchor=west, font=\sffamily\fs{5.5}] at (1836.4,181.3) {UP};
\node[anchor=west, font=\sffamily\fs{5.5}] at (1836.4,196.7) {DOWN};
% D
\node[anchor=west, font=\sffamily\fs{7.6}] at (412.5,586.2) {group};
\foreach \s/\x in {B3/108.6,B2/163.1,B1/217.6,A2/272,A3/326.5,A1/381}
  \node[font=\sffamily\fs{7}, rotate=90] at (\x,1121) {\s};
\foreach \s/\y in {2/818.6,1/836.4,0/854.2,-1/872,-2/889.7}
  \node[anchor=west, font=\sffamily\fs{6.2}] at (477,\y) {\s};
\node[anchor=west, font=\sffamily\bfseries\fs{6.2}] at (499,820.8) {group};
\node[anchor=west, font=\sffamily\fs{7.2}] at (521.4,839) {A};
\node[anchor=west, font=\sffamily\fs{7.2}] at (521.4,854.2) {B};
\end{scope}
% E
\foreach \k/\g/\f/\gx/\gy/\oa/\ib in {
 0/ANGPTL4/-7.620/809/87/3.33/0.00, 1/C1H21orf62/-2.970/1012/101/5.33/0.67,
 2/CHI3L2/2.841/1100/147/1.00/7.00, 3/CPVL/-3.824/1192/220/4.67/0.33,
 4/CRYBA1/7.518/1302/319/0.00/3.00, 5/CYP26B1/3.342/1377/438/151.00/1532.00,
 6/DNASE1L3/-3.877/1439/572/10.67/0.67, 7/DUPD1/3.473/1436/716/1.67/18.33,
 8/KLC3/-3.156/1428/864/6.00/0.67, 9/KLRG2/2.885/1414/1008/1.00/7.33,
 10/LAG3/-7.737/1352/1141/3.67/0.00, 11/LY6G6F/-4.449/1298/1261/7.33/0.33,
 12/MEIOB/-2.926/1204/1359/12.67/1.67, 13/MMP3/3.170/1091/1433/0.67/6.00,
 14/MT2A/3.803/974/1479/291.33/4043.00, 15/MUSTN1/-3.663/809/1493/4.33/0.33,
 16/NKX2-8/3.196/633/1479/0.67/6.00, 17/NOS2/-7.465/533/1433/3.00/0.00,
 18/NOX1/7.866/425/1359/0.00/4.00, 19/OAS1X/4.073/327/1261/0.33/5.67,
 20/ODF3L1/-7.781/247/1141/3.67/0.00, 21/OLFM4/7.966/203/1008/0.00/4.00,
 22/PLAC1/-7.781/181/864/3.67/0.00, 23/PLEKHG4/-3.544/157/716/4.00/0.33,
 24/PNPLA1/-3.663/197/572/4.33/0.33, 25/RASGEF1C/7.518/224/438/0.00/3.00,
 26/RHOJ/8.245/335/319/0.00/5.00, 27/SHC4/3.224/428/220/3.00/27.00,
 28/SLFNL1/-3.413/514/147/13.67/1.33, 29/TLR10/-7.644/641/101/3.33/0.00}{
  \pgfmathsetmacro\th{\k*12}
  \pgfmathsetmacro\rot{(\th>90 && \th<270) ? 180-\th : -\th}
  \node[font=\bfseries\fs{6.3}] at ({570+\gx/2.45},{560+\gy/2.904}) {\g};
  \node[font=\fs{5.5}, text=txtF, rotate=\rot] at ({900.3+216*sin(\th)},{833.7-216*cos(\th)}) {\f};
  \node[font=\fs{5.5}, text=txtA, rotate=\rot] at ({900.3+142*sin(\th)},{833.7-142*cos(\th)}) {\oa};
  \node[font=\fs{5.5}, text=txtB, rotate=\rot] at ({900.3+126*sin(\th)},{833.7-126*cos(\th)}) {\ib};
}
\node[anchor=west, font=\fs{5.6}] at (871,815.3) {abundance of A};
\node[anchor=west, font=\fs{5.6}] at (871,828.3) {abundance of B};
\node[anchor=west, font=\fs{5.6}] at (878.3,849.3) {log2(fc) > 0};
\node[anchor=west, font=\fs{5.6}] at (878.3,862.7) {log2(fc) < 0};
% F
\node[font=\bfseries\fs{9}] at (1647.5,1136) {RichFactor};
\node[anchor=west, font=\fs{7.9}] at (1806,486.5) {GeneNumber};
\foreach \s/\y in {10/522,20/560,30/598,40/635,50/672}
  \node[anchor=west, font=\fs{7.5}] at (1852,\y) {\s};
\node[anchor=west, font=\fs{7.9}] at (1806,711.4) {-log\raisebox{-.35ex}{\fs{5}10}(Pvalue)};
\foreach \s/\y in {5/743.9,4/771.9,3/799.5,2/826.2}
  \node[anchor=west, font=\fs{7.5}] at (1826.6,\y) {\s};
\end{scope}
\end{tikzpicture}
\end{document}
